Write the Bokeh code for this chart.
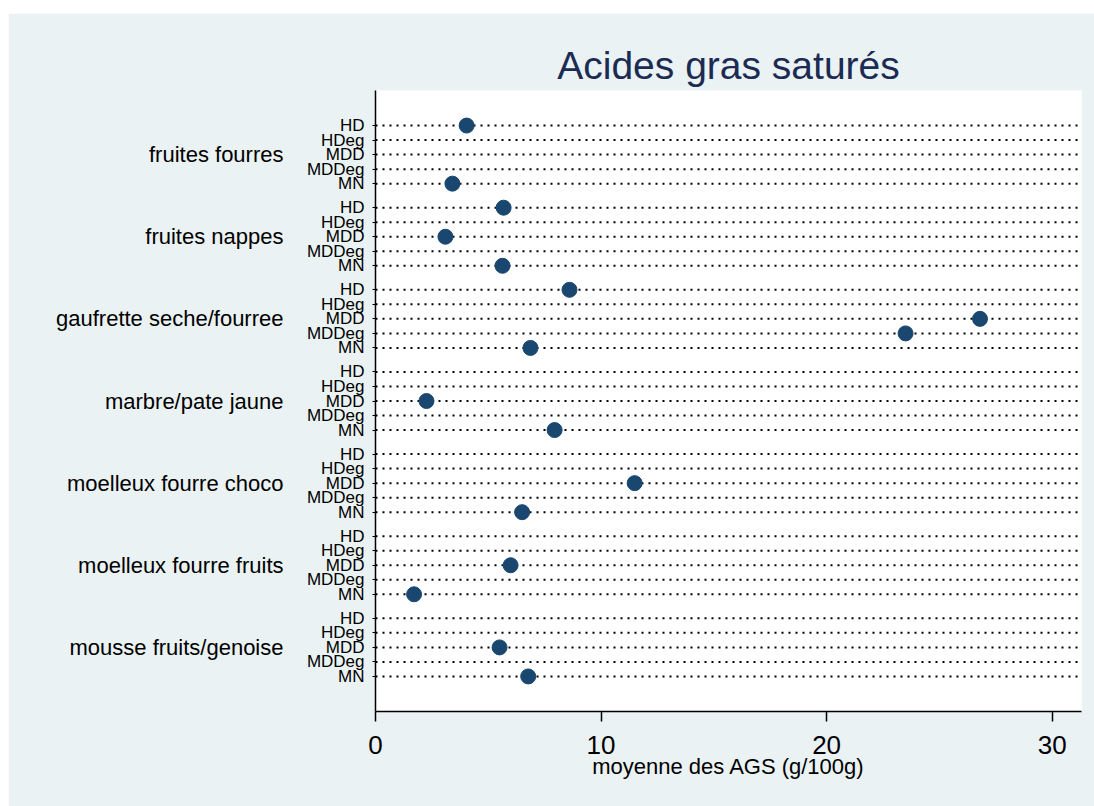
from bokeh.plotting import figure
from bokeh.models import FixedTicker, LinearAxis, Range1d, Spacer
from bokeh.layouts import column, row
from bokeh.embed import file_html
from bokeh.resources import INLINE

# ---- data ----
groups = ["fruites fourres", "fruites nappes", "gaufrette seche/fourree",
          "marbre/pate jaune", "moelleux fourre choco", "moelleux fourre fruits",
          "mousse fruits/genoise"]
subs = ["HD", "HDeg", "MDD", "MDDeg", "MN"]

fruites_fourres = [4.04, None, None, None, 3.41]
fruites_nappes = [5.68, None, 3.10, None, 5.63]
gaufrette = [8.60, None, 26.8, 23.5, 6.87]
marbre = [None, None, 2.26, None, 7.94]
moelleux_choco = [None, None, 11.49, None, 6.50]
moelleux_fruits = [None, None, 5.99, None, 1.71]
mousse = [None, None, 5.50, None, 6.77]
values = [fruites_fourres, fruites_nappes, gaufrette, marbre,
          moelleux_choco, moelleux_fruits, mousse]

x_ticks = [0, 10, 20, 30]
x_max = 31.3

# ---- layout constants ----
ROW = 29
GROUP = 164
BG = "#EAF2F3"
FONT = "Liberation Sans"
DOT = "#1a476f"

row_y, row_lab, pt_x, pt_y = [], [], [], []
for g, vals in enumerate(values):
    for r, s in enumerate(subs):
        y = g * GROUP + r * ROW
        row_y.append(y)
        row_lab.append(s)
        if vals[r] is not None:
            pt_x.append(vals[r])
            pt_y.append(y)
group_y = [g * GROUP + 2 * ROW for g in range(len(groups))]

p = figure(width=1086, height=793, output_backend="svg", toolbar_location=None,
           x_range=Range1d(0, x_max), y_range=Range1d(row_y[-1] + 70, -70),
           min_border_left=367, min_border_right=13, min_border_top=77,
           min_border_bottom=95)
p.background_fill_color = "white"
p.border_fill_color = BG
p.outline_line_color = None
p.xgrid.visible = False
p.ygrid.visible = False

p.title.text = "Acides gras saturés"
p.title.align = "center"
p.title.text_font = FONT
p.title.text_font_size = "39px"
p.title.text_font_style = "normal"
p.title.text_color = "#1c2b53"
p.title.standoff = 7

# dotted row lines
p.segment(x0=[0] * len(row_y), y0=row_y, x1=[x_max + 5] * len(row_y), y1=row_y,
          line_color="black", line_width=2, line_dash="2 5")
p.scatter(pt_x, pt_y, size=15, fill_color=DOT, line_color=DOT)

# x axis
xa = p.xaxis[0]
xa.ticker = FixedTicker(ticks=x_ticks)
xa.major_tick_out = 10
xa.major_tick_in = 0
xa.major_tick_line_width = 1.5
xa.axis_line_width = 1.5
xa.major_label_text_font = FONT
xa.major_label_text_font_size = "26px"
xa.major_label_text_color = "black"
xa.major_label_standoff = 14
xa.axis_label = "moyenne des AGS (g/100g)"
xa.axis_label_text_font = FONT
xa.axis_label_text_font_size = "22px"
xa.axis_label_text_font_style = "normal"
xa.axis_label_text_color = "black"
xa.axis_label_standoff = -3

# sub-category axis
ya = p.yaxis[0]
ya.ticker = FixedTicker(ticks=row_y)
ya.major_label_overrides = {y: s for y, s in zip(row_y, row_lab)}
ya.major_tick_out = 3
ya.major_tick_in = 0
ya.axis_line_width = 1.5
ya.major_label_text_font = FONT
ya.major_label_text_font_size = "17px"
ya.major_label_text_color = "black"
ya.major_label_standoff = 8
ya.minor_tick_line_color = None

# group axis
ga = LinearAxis(ticker=FixedTicker(ticks=group_y),
                major_label_overrides={y: s for y, s in zip(group_y, groups)})
ga.axis_line_color = None
ga.major_tick_line_color = None
ga.minor_tick_line_color = None
ga.major_label_text_font = FONT
ga.major_label_text_font_size = "22px"
ga.major_label_text_color = "black"
ga.major_label_standoff = 14
p.add_layout(ga, "left")

layout = column(Spacer(width=1094, height=13),
                row(Spacer(width=8, height=793), p))
open("out.html", "w").write(file_html(layout, INLINE))
